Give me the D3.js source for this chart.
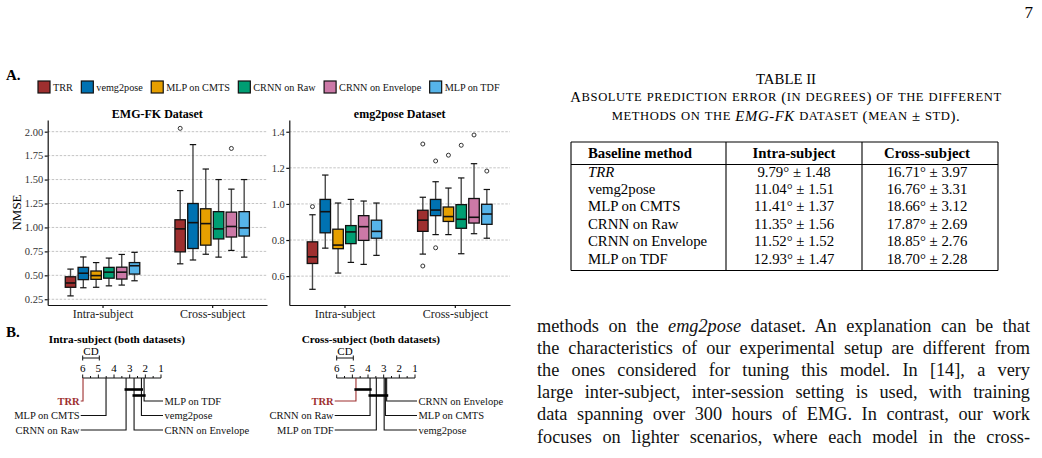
<!DOCTYPE html>
<html><head><meta charset="utf-8">
<script src="https://cdn.jsdelivr.net/npm/d3@7"></script>
<style>
html,body{margin:0;padding:0;background:#fff;}
svg{display:block;font-family:"Liberation Serif","Times New Roman",serif;}
</style></head><body>
<svg id="page" width="1042" height="458"></svg>
<script>
// ---------------- DATA ----------------
const methods = ["TRR","vemg2pose","MLP on CMTS","CRNN on Raw","CRNN on Envelope","MLP on TDF"];
const colors  = ["#9e2f2f","#0072b2","#e69f00","#009e73","#cc79a7","#56b4e9"];
const settings = ["Intra-subject","Cross-subject"];

// box statistics per method: [lower whisker, Q1, median, Q3, upper whisker]
const emgfkIntra = [[0.285,0.375,0.42,0.485,0.565],[0.37,0.455,0.522,0.583,0.692],[0.375,0.458,0.497,0.545,0.633],
                    [0.39,0.47,0.533,0.583,0.68],[0.398,0.461,0.533,0.585,0.718],[0.443,0.513,0.600,0.633,0.74]];
const emgfkCross = [[0.62,0.745,0.985,1.08,1.385],[0.66,0.78,1.05,1.25,1.865],[0.72,0.815,1.04,1.195,1.61],
                    [0.69,0.88,0.985,1.165,1.50],[0.76,0.90,1.01,1.16,1.40],[0.69,0.91,0.995,1.165,1.50]];
const emgfkIntraOutliers = [[],[],[],[],[],[]];
const emgfkCrossOutliers = [[2.035],[],[],[],[1.825],[]];

const e2pIntra = [[0.527,0.67,0.707,0.79,0.94],[0.755,0.84,0.957,1.025,1.16],[0.617,0.752,0.772,0.86,1.005],
                  [0.676,0.78,0.845,0.88,1.025],[0.665,0.798,0.874,0.935,1.016],[0.715,0.81,0.848,0.91,1.005]];
const e2pCross = [[0.722,0.848,0.91,0.965,1.037],[0.83,0.935,0.966,1.025,1.123],[0.83,0.903,0.93,0.983,1.088],
                  [0.724,0.865,0.915,0.996,1.144],[0.835,0.894,0.926,1.03,1.223],[0.81,0.887,0.944,0.998,1.08]];
const e2pIntraOutliers = [[0.985],[],[],[],[],[]];
const e2pCrossOutliers = [[1.332,0.656],[1.238,0.757],[1.27],[1.325],[1.382],[1.182]];

const emgfkTicks = [0.25,0.5,0.75,1.0,1.25,1.5,1.75,2.0];
const e2pTicks = [0.6,0.8,1.0,1.2,1.4];

// critical difference diagrams: average ranks (same order as methods)
const cdIntraRanks = [5.98,2.25,4.51,3.23,2.72,2.08];
const cdCrossRanks = [4.77,2.97,2.89,3.87,2.81,3.47];
const cdValue = 1.06;
const cdIntraCliques = [["CRNN on Raw","vemg2pose"],["CRNN on Envelope","MLP on TDF"]];
const cdCrossCliques = [["TRR","CRNN on Raw"],["CRNN on Raw","CRNN on Envelope"]];
const rankTicks = [6,5,4,3,2,1];

// table II
const tableHeader = ["Baseline method","Intra-subject","Cross-subject"];
const tableIntra = ["9.79° ± 1.48","11.04° ± 1.51","11.41° ± 1.37","11.35° ± 1.56","11.52° ± 1.52","12.93° ± 1.47"];
const tableCross = ["16.71° ± 3.97","16.76° ± 3.31","18.66° ± 3.12","17.87° ± 2.69","18.85° ± 2.76","18.70° ± 2.28"];
const captionLines = [
  [["Absolute prediction error (in degrees) of the different",false]],
  [["methods on the ",false],["EMG-FK",true],[" dataset (mean ± std).",false]]
];

// body text (segments: [text, italic?])
const bodyLines = [
  [["methods on the ",false],["emg2pose",true],[" dataset. An explanation can be that",false]],
  [["the characteristics of our experimental setup are different from",false]],
  [["the ones considered for tuning this model. In [14], a very",false]],
  [["large inter-subject, inter-session setting is used, with training",false]],
  [["data spanning over 300 hours of EMG. In contrast, our work",false]],
  [["focuses on lighter scenarios, where each model in the cross-",false]]
];

// ---------------- DRAW ----------------
const FONT = "'Liberation Serif','Times New Roman',serif";
const svg = d3.select("#page");
svg.append("rect").attr("width",1042).attr("height",458).attr("fill","#fff");

// page number
svg.append("text").attr("x",1033).attr("y",12).attr("dominant-baseline","central")
  .attr("text-anchor","end").attr("font-size",17).text("7");

// Section labels
svg.append("text").attr("x",6).attr("y",75).attr("dominant-baseline","central")
  .attr("font-size",15).attr("font-weight","bold").text("A.");
svg.append("text").attr("x",6).attr("y",332).attr("dominant-baseline","central")
  .attr("font-size",15).attr("font-weight","bold").text("B.");

// Legend
{
  let lx = 38;
  const lg = svg.append("g");
  methods.forEach((m,i)=>{
    lg.append("rect").attr("x",lx).attr("y",81).attr("width",12).attr("height",12)
      .attr("fill",colors[i]).attr("stroke","#111").attr("stroke-width",1.2);
    const t = lg.append("text").attr("x",lx+15).attr("y",87.5).attr("dominant-baseline","central")
      .attr("font-size",10.2).attr("fill","#111").text(m);
    lx = lx + 15 + t.node().getComputedTextLength() + 8.5;
  });
}

// Box plot panels
const panels = [
  {title:"EMG-FK Dataset", left:47.7, right:267, domain:[0.19,2.122], ticks:emgfkTicks, fmt:d3.format(".2f"),
   stats:[emgfkIntra,emgfkCross], outliers:[emgfkIntraOutliers,emgfkCrossOutliers], ylabel:"NMSE"},
  {title:"emg2pose Dataset", left:289.3, right:510, domain:[0.44,1.465], ticks:e2pTicks, fmt:d3.format(".1f"),
   stats:[e2pIntra,e2pCross], outliers:[e2pIntraOutliers,e2pCrossOutliers], ylabel:null}
];
const pTop = 120, pBottom = 305;

panels.forEach(p=>{
  const g = svg.append("g");
  const y = d3.scaleLinear().domain(p.domain).range([pBottom,pTop]);
  const x = d3.scalePoint().domain(settings).range([p.left,p.right]).padding(0.5);
  const dodge = d3.scaleBand().domain(methods).range([-38.4,38.4]).paddingInner(0.18).paddingOuter(0.09);
  const bw = dodge.bandwidth();

  g.selectAll("line.grid").data(p.ticks).join("line").attr("class","grid")
    .attr("x1",p.left).attr("x2",p.right).attr("y1",d=>y(d)).attr("y2",d=>y(d))
    .attr("stroke","#c4c4c4").attr("stroke-width",1).attr("stroke-dasharray","2.5,1.5");

  const ya = g.append("g").attr("transform",`translate(${p.left},0)`)
    .call(d3.axisLeft(y).tickValues(p.ticks).tickFormat(p.fmt).tickSize(3).tickSizeOuter(0).tickPadding(1.5));
  ya.attr("font-family",FONT).attr("font-size",10.5);
  ya.selectAll("text").attr("fill","#333");
  ya.selectAll("path,line").attr("stroke","#111").attr("stroke-width",1.2);

  const xa = g.append("g").attr("transform",`translate(0,${pBottom})`)
    .call(d3.axisBottom(x).tickSize(3).tickSizeOuter(0).tickPadding(1.5));
  xa.attr("font-family",FONT).attr("font-size",12);
  xa.selectAll("text").attr("fill","#222");
  xa.selectAll("path,line").attr("stroke","#111").attr("stroke-width",1.2);

  g.append("text").attr("x",(p.left+p.right)/2).attr("y",113.5).attr("text-anchor","middle")
    .attr("dominant-baseline","central").attr("font-size",12).attr("font-weight","bold").text(p.title);
  if(p.ylabel){
    g.append("text").attr("transform",`translate(16,${(pTop+pBottom)/2}) rotate(-90)`)
      .attr("text-anchor","middle").attr("dominant-baseline","central").attr("font-size",13).text(p.ylabel);
  }

  settings.forEach((s,si)=>{
    methods.forEach((m,mi)=>{
      const st = p.stats[si][mi];
      const cx = x(s)+dodge(m)+bw/2;
      const bg = g.append("g");
      const wstroke = "#4a4a4a";
      bg.append("line").attr("x1",cx).attr("x2",cx).attr("y1",y(st[0])).attr("y2",y(st[1]))
        .attr("stroke",wstroke).attr("stroke-width",1.4);
      bg.append("line").attr("x1",cx).attr("x2",cx).attr("y1",y(st[3])).attr("y2",y(st[4]))
        .attr("stroke",wstroke).attr("stroke-width",1.4);
      [st[0],st[4]].forEach(v=>{
        bg.append("line").attr("x1",cx-3.2).attr("x2",cx+3.2).attr("y1",y(v)).attr("y2",y(v))
          .attr("stroke","#111").attr("stroke-width",1.2);
      });
      bg.append("rect").attr("x",cx-bw/2).attr("width",bw).attr("y",y(st[3])).attr("height",y(st[1])-y(st[3]))
        .attr("fill",colors[mi]).attr("stroke","#111").attr("stroke-width",1.3);
      bg.append("line").attr("x1",cx-bw/2).attr("x2",cx+bw/2).attr("y1",y(st[2])).attr("y2",y(st[2]))
        .attr("stroke","#111").attr("stroke-width",1.6);
      p.outliers[si][mi].forEach(v=>{
        bg.append("circle").attr("cx",cx).attr("cy",y(v)).attr("r",2).attr("fill","#fff")
          .attr("stroke","#333").attr("stroke-width",1);
      });
    });
  });
});

// Critical difference diagrams
const cds = [
  {title:"Intra-subject (both datasets)", x0:82.7, x1:161, ranks:cdIntraRanks, cliques:cdIntraCliques},
  {title:"Cross-subject (both datasets)", x0:336.7, x1:415, ranks:cdCrossRanks, cliques:cdCrossCliques}
];
const axisY = 378, labelYs = [401,415.5,430], cliqueYs = [389.5,395.5];
cds.forEach(c=>{
  const g = svg.append("g");
  const r = d3.scaleLinear().domain([6,1]).range([c.x0,c.x1]);
  g.append("text").attr("x",(c.x0+c.x1)/2 - 5).attr("y",339.3).attr("text-anchor","middle")
    .attr("dominant-baseline","central").attr("font-size",11.2).attr("font-weight","bold").text(c.title);
  const cdY = 358;
  g.append("line").attr("x1",r(6)).attr("x2",r(6-cdValue)).attr("y1",cdY).attr("y2",cdY).attr("stroke","#111").attr("stroke-width",1);
  [6,6-cdValue].forEach(v=>g.append("line").attr("x1",r(v)).attr("x2",r(v)).attr("y1",cdY-2.5).attr("y2",cdY+2.5).attr("stroke","#111").attr("stroke-width",1));
  g.append("text").attr("x",r(6-cdValue/2)).attr("y",351).attr("text-anchor","middle")
    .attr("dominant-baseline","central").attr("font-size",11).text("CD");
  g.append("line").attr("x1",r(6)).attr("x2",r(1)).attr("y1",axisY).attr("y2",axisY).attr("stroke","#111").attr("stroke-width",1);
  d3.range(1,6.01,0.5).forEach(v=>{
    const len = Number.isInteger(v)?3.5:2;
    g.append("line").attr("x1",r(v)).attr("x2",r(v)).attr("y1",axisY-len).attr("y2",axisY).attr("stroke","#111").attr("stroke-width",1);
  });
  rankTicks.forEach(v=>g.append("text").attr("x",r(v)).attr("y",368.3).attr("text-anchor","middle")
    .attr("dominant-baseline","central").attr("font-size",11).text(v));
  const items = methods.map((m,i)=>({m,i,rank:c.ranks[i]}));
  const left = items.slice().sort((a,b)=>b.rank-a.rank).slice(0,3);
  const right = items.slice().sort((a,b)=>a.rank-b.rank).slice(0,3);
  const leftEnd = c.x0 - 2, rightStart = c.x1 + 2;
  left.forEach((d,k)=>{
    const col = d.m==="TRR" ? colors[0] : "#111";
    g.append("path").attr("d",`M${r(d.rank)},${axisY}V${labelYs[k]}H${leftEnd}`).attr("fill","none")
      .attr("stroke",col).attr("stroke-width",1.1);
    g.append("text").attr("x",leftEnd-1).attr("y",labelYs[k]).attr("text-anchor","end")
      .attr("dominant-baseline","central").attr("font-size",10.5).attr("fill",col)
      .attr("font-weight",d.m==="TRR"?"bold":"normal").text(d.m);
  });
  right.forEach((d,k)=>{
    const col = d.m==="TRR" ? colors[0] : "#111";
    g.append("path").attr("d",`M${r(d.rank)},${axisY}V${labelYs[k]}H${rightStart}`).attr("fill","none")
      .attr("stroke",col).attr("stroke-width",1.1);
    g.append("text").attr("x",rightStart+1.5).attr("y",labelYs[k]).attr("text-anchor","start")
      .attr("dominant-baseline","central").attr("font-size",10.5).attr("fill",col).text(d.m);
  });
  c.cliques.forEach((cl,k)=>{
    const a = c.ranks[methods.indexOf(cl[0])], b = c.ranks[methods.indexOf(cl[1])];
    g.append("line").attr("x1",r(Math.max(a,b)+0.1)).attr("x2",r(Math.min(a,b)-0.1))
      .attr("y1",cliqueYs[k]).attr("y2",cliqueYs[k]).attr("stroke","#000").attr("stroke-width",2.6);
  });
});

// Table II
{
  const g = svg.append("g");
  const cx = 786, fs = 14.8, sc = 12.6;
  g.append("text").attr("x",cx).attr("y",78.5).attr("text-anchor","middle").attr("dominant-baseline","central")
    .attr("font-size",fs).text("TABLE II");
  // manual small caps
  captionLines.forEach((segs,k)=>{
    const t = g.append("text").attr("x",cx).attr("y",97 + k*18.5).attr("text-anchor","middle")
      .attr("dominant-baseline","central").attr("font-size",fs).attr("letter-spacing",0.6);
    segs.forEach(([str,ital])=>{
      if(ital){ t.append("tspan").attr("font-style","italic").attr("font-size",fs).text(str); return; }
      const runs = [];
      for(const ch of str){
        const small = /[a-z]/.test(ch);
        if(runs.length && runs[runs.length-1].small===small) runs[runs.length-1].s += ch;
        else runs.push({small,s:ch});
      }
      runs.forEach(rn=>t.append("tspan").attr("font-size",rn.small?sc:fs).text(rn.small?rn.s.toUpperCase():rn.s));
    });
  });

  const tL=571, tR=998, sep=[726,862], tT=142, hL=164.5, tB=270.5;
  const line=(x1,y1,x2,y2)=>g.append("line").attr("x1",x1).attr("y1",y1).attr("x2",x2).attr("y2",y2).attr("stroke","#000").attr("stroke-width",1.1);
  line(tL,tT,tR,tT); line(tL,tB,tR,tB); line(tL,hL,tR,hL);
  line(tL,tT,tL,tB); line(tR,tT,tR,tB); sep.forEach(s=>line(s,tT,s,tB));
  const colC = [(sep[0]+sep[1])/2,(sep[1]+tR)/2 - 3];
  const hy = 153;
  g.append("text").attr("x",588).attr("y",hy).attr("dominant-baseline","central").attr("font-size",fs).attr("font-weight","bold").text(tableHeader[0]);
  g.append("text").attr("x",colC[0]).attr("y",hy).attr("text-anchor","middle").attr("dominant-baseline","central").attr("font-size",fs).attr("font-weight","bold").text(tableHeader[1]);
  g.append("text").attr("x",colC[1]).attr("y",hy).attr("text-anchor","middle").attr("dominant-baseline","central").attr("font-size",fs).attr("font-weight","bold").text(tableHeader[2]);
  methods.forEach((m,i)=>{
    const ry = 171.5 + i*17.4;
    g.append("text").attr("x",588).attr("y",ry).attr("dominant-baseline","central").attr("font-size",fs)
      .attr("font-style",m==="TRR"?"italic":"normal").text(m);
    g.append("text").attr("x",colC[0]).attr("y",ry).attr("text-anchor","middle").attr("dominant-baseline","central").attr("font-size",fs).text(tableIntra[i]);
    g.append("text").attr("x",colC[1]).attr("y",ry).attr("text-anchor","middle").attr("dominant-baseline","central").attr("font-size",fs).text(tableCross[i]);
  });
}

// Body text (justified)
{
  const g = svg.append("g");
  const bx = 537, bw = 493, fs = 18.3;
  bodyLines.forEach((segs,k)=>{
    const t = g.append("text").attr("x",bx).attr("y",326 + k*22.1).attr("dominant-baseline","central")
      .attr("font-size",fs).attr("fill","#111");
    segs.forEach(s=>t.append("tspan").attr("font-style",s[1]?"italic":"normal").text(s[0]));
    const w = t.node().getComputedTextLength();
    const spaces = segs.map(s=>s[0]).join("").split(" ").length-1;
    if(spaces>0) t.attr("word-spacing",(bw-w)/spaces);
  });
}
</script>
</body></html>
